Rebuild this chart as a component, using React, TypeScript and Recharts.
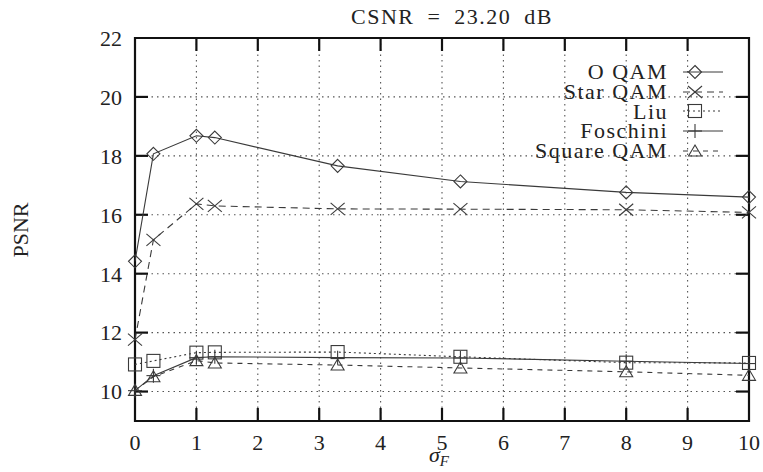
import React from 'react';
import { LineChart, Line, XAxis, YAxis, CartesianGrid, ReferenceLine, ReferenceArea, Legend } from 'recharts';

const xValues = [0, 0.3, 1, 1.3, 3.3, 5.3, 8, 10];
const oQam = [14.42, 18.07, 18.68, 18.62, 17.66, 17.13, 16.76, 16.6];
const starQam = [11.76, 15.15, 16.37, 16.3, 16.2, 16.19, 16.17, 16.08];
const liu = [10.92, 11.04, 11.32, 11.33, 11.34, 11.18, 10.98, 10.97];
const foschini = [10.03, 10.54, 11.15, 11.18, 11.15, 11.14, 11.03, 10.95];
const squareQam = [10.04, 10.5, 11.05, 10.97, 10.9, 10.8, 10.67, 10.55];

const xTicks = [0, 1, 2, 3, 4, 5, 6, 7, 8, 9, 10];
const yTicks = [10, 12, 14, 16, 18, 20, 22];
const title = 'CSNR = 23.20 dB';
const yLabel = 'PSNR';

const FONT = "'Times New Roman', 'Liberation Serif', 'DejaVu Serif', serif";
const INK = '#222';
const LINE = '#3a3a3a';

type Kind = 'diamond' | 'x' | 'square' | 'plus' | 'triangle';

const series: { key: string; name: string; values: number[]; dash?: string; kind: Kind }[] = [
  { key: 'o', name: 'O QAM', values: oQam, kind: 'diamond' },
  { key: 'star', name: 'Star QAM', values: starQam, dash: '7 5', kind: 'x' },
  { key: 'liu', name: 'Liu', values: liu, dash: '2 3', kind: 'square' },
  { key: 'fos', name: 'Foschini', values: foschini, kind: 'plus' },
  { key: 'sq', name: 'Square QAM', values: squareQam, dash: '5 5', kind: 'triangle' },
];

const data = xValues.map((x, i) => {
  const row: Record<string, number> = { x };
  series.forEach((s) => (row[s.key] = s.values[i]));
  return row;
});

function Marker({ kind, cx, cy }: { kind: Kind; cx: number; cy: number }) {
  const st = { stroke: LINE, strokeWidth: 1.1, fill: 'none' };
  const r = 6.5;
  switch (kind) {
    case 'diamond':
      return <polygon points={`${cx},${cy - r} ${cx + r},${cy} ${cx},${cy + r} ${cx - r},${cy}`} {...st} />;
    case 'x':
      return (
        <g {...st}>
          <line x1={cx - 7} y1={cy - 6} x2={cx + 7} y2={cy + 6} />
          <line x1={cx - 7} y1={cy + 6} x2={cx + 7} y2={cy - 6} />
        </g>
      );
    case 'square':
      return <rect x={cx - 6.5} y={cy - 6.5} width={13} height={13} {...st} />;
    case 'plus':
      return (
        <g {...st}>
          <line x1={cx - 7} y1={cy} x2={cx + 7} y2={cy} />
          <line x1={cx} y1={cy - 7} x2={cx} y2={cy + 7} />
        </g>
      );
    case 'triangle':
      return <polygon points={`${cx},${cy - 6} ${cx + 6.5},${cy + 5} ${cx - 6.5},${cy + 5}`} {...st} />;
  }
  return null;
}

const renderLegend = () => (
  <div style={{ fontFamily: FONT, fontSize: 22, color: INK }}>
    {series.map((s) => (
      <div key={s.key} style={{ display: 'flex', alignItems: 'center', height: 19.75 }}>
        <div style={{ width: 148, textAlign: 'right', letterSpacing: 1.5, lineHeight: '19.75px', whiteSpace: 'nowrap' }}>{s.name}</div>
        <svg width={40} height={20} style={{ marginLeft: 15, overflow: 'visible' }}>
          <line x1={0} y1={10} x2={40} y2={10} stroke={LINE} strokeWidth={1} strokeDasharray={s.dash} />
          <Marker kind={s.kind} cx={12} cy={10} />
        </svg>
      </div>
    ))}
  </div>
);

const xTickLen = 13 / 61.4;
const yTickLen = 13 / 29.5;

export default function App() {
  return (
    <div style={{ position: 'absolute', left: 0, top: 0, width: 763, height: 472, background: '#fff' }}>
      <div
        style={{
          position: 'absolute',
          top: 4,
          left: 0,
          width: 763,
          paddingLeft: 141,
          boxSizing: 'border-box',
          textAlign: 'center',
          fontFamily: FONT,
          fontSize: 22,
          color: INK,
          letterSpacing: 1.5,
          wordSpacing: 6,
          zIndex: 2,
        }}
      >
        {title}
      </div>
      <LineChart width={763} height={472} data={data} margin={{ top: 38, right: 14, bottom: 21, left: 75 }}>
        <CartesianGrid stroke="#555" strokeDasharray="1.5 4" strokeWidth={1.1} />
        <XAxis
          dataKey="x"
          type="number"
          domain={[0, 10]}
          ticks={xTicks}
          height={30}
          tickSize={0}
          tickMargin={13}
          axisLine={false}
          tickLine={false}
          interval={0}
          tick={{ fontFamily: FONT, fontSize: 22, fill: INK }}
          label={{
            content: (p: any) => {
              const vb = p.viewBox;
              const cx = vb.x + vb.width / 2;
              return (
                <text x={cx - 13} y={462} fontFamily={FONT} fontSize={22} fill={INK}>
                  <tspan fontStyle="italic">σ</tspan>
                  <tspan fontStyle="italic" fontSize={15} dy={4}>F</tspan>
                </text>
              );
            },
          }}
        />
        <YAxis
          type="number"
          domain={[9, 22]}
          ticks={yTicks}
          width={60}
          tickSize={0}
          tickMargin={13}
          axisLine={false}
          tickLine={false}
          interval={0}
          tick={{ fontFamily: FONT, fontSize: 22, fill: INK }}
          label={{
            content: (p: any) => {
              const vb = p.viewBox;
              const x = vb.x - 55;
              const y = 230;
              return (
                <text x={x} y={y} transform={`rotate(-90, ${x}, ${y})`} textAnchor="middle" dominantBaseline="central" fontFamily={FONT} fontSize={22} fill={INK}>
                  {yLabel}
                </text>
              );
            },
          }}
        />
        {xTicks.slice(1, -1).map((t) => (
          <ReferenceLine key={'bx' + t} segment={[{ x: t, y: 9 }, { x: t, y: 9 + yTickLen }]} stroke="#111" strokeWidth={2.2} />
        ))}
        {xTicks.slice(1, -1).map((t) => (
          <ReferenceLine key={'tx' + t} segment={[{ x: t, y: 22 }, { x: t, y: 22 - yTickLen }]} stroke="#111" strokeWidth={2.2} />
        ))}
        {yTicks.slice(0, -1).map((t) => (
          <ReferenceLine key={'ly' + t} segment={[{ x: 0, y: t }, { x: xTickLen, y: t }]} stroke="#111" strokeWidth={2.2} />
        ))}
        {yTicks.slice(0, -1).map((t) => (
          <ReferenceLine key={'ry' + t} segment={[{ x: 10, y: t }, { x: 10 - xTickLen, y: t }]} stroke="#111" strokeWidth={2.2} />
        ))}
        {series.map((s) => (
          <Line
            key={s.key}
            dataKey={s.key}
            name={s.name}
            stroke={LINE}
            strokeWidth={1.1}
            strokeDasharray={s.dash}
            isAnimationActive={false}
            type="linear"
            dot={(p: any) => <Marker key={s.key + p.index} kind={s.kind} cx={p.cx} cy={p.cy} />}
            activeDot={false}
          />
        ))}
        <ReferenceArea x1={0} x2={10} y1={9} y2={22} fill="none" stroke="#111" strokeWidth={2.2} ifOverflow="visible" />
        <Legend
          layout="vertical"
          align="center"
          verticalAlign="middle"
          content={renderLegend}
          wrapperStyle={{ left: 520, top: 62, width: 210, height: 100 }}
        />
      </LineChart>
    </div>
  );
}
